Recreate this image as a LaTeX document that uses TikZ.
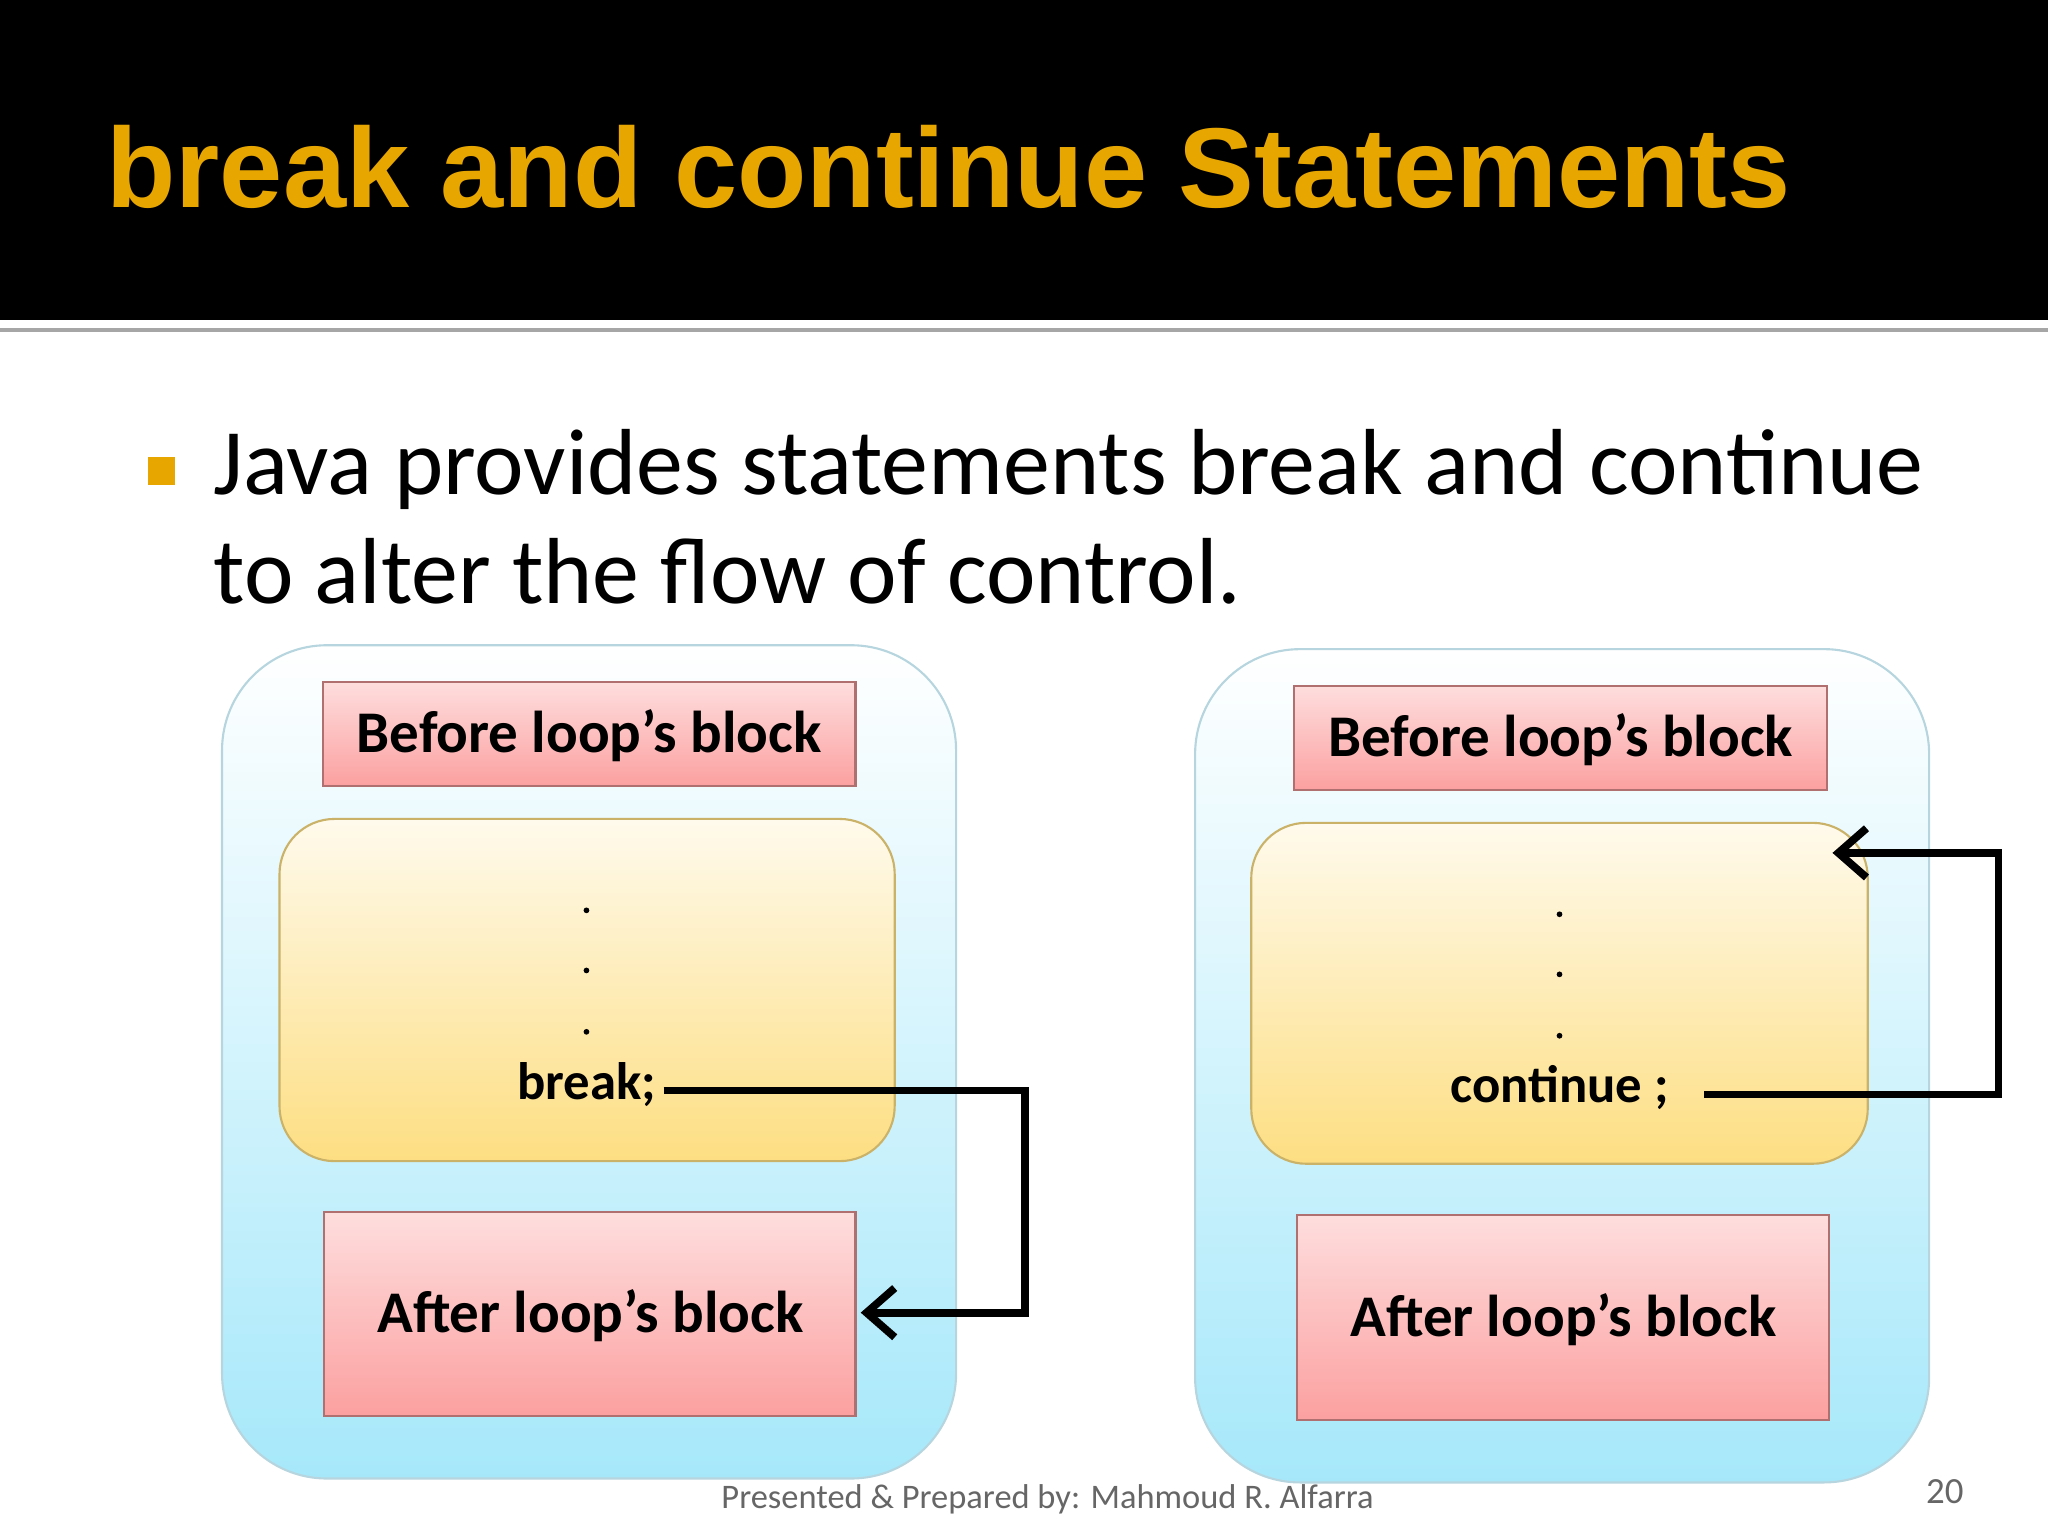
\documentclass[tikz,border=0pt]{standalone}
\usepackage{fontspec}
\setmainfont{Carlito}
\newfontfamily\titlefont{Liberation Sans}
\usetikzlibrary{positioning, arrows.meta, calc}
\definecolor{titleorange}{RGB}{232,166,0}
\definecolor{outerblue}{RGB}{166,232,250}
\definecolor{bodyyellow}{RGB}{253,222,130}
\definecolor{boxpink}{RGB}{252,160,160}
\tikzset{
    outer/.style={draw=outerblue!80!black!60, rounded corners=1.05cm, top color=white, bottom color=outerblue, line width=0.6pt},
    body/.style={draw=bodyyellow!80!black, rounded corners=0.55cm, top color=white!85!bodyyellow, bottom color=bodyyellow, line width=0.6pt},
    blockbox/.style={draw=boxpink!70!black, top color=boxpink!35, bottom color=boxpink, line width=0.6pt},
    blocktext/.style={font=\fontsize{16.8}{19}\selectfont\bfseries, inner sep=0pt},
    flow/.style={line width=2.2pt, -{Straight Barb[length=8pt, width=14pt, line width=2.2pt]}},
    code/.style={font=\fontsize{15}{17}\selectfont\bfseries, inner sep=0pt}
}
\begin{document}
\begin{tikzpicture}[x=0.013061cm, y=-0.013061cm]
    \useasboundingbox (0,0) rectangle (1568,1176);
    % title bar
    \fill[black] (0,0) rectangle (1568,245);
    \fill[gray!70] (0,251) rectangle (1568,254);
    \node[anchor=west, text=titleorange, font=\titlefont\bfseries\fontsize{32.3}{38}\selectfont] (title) at (72,128) {break and continue Statements};
    % bullet
    \fill[titleorange] (113,350) rectangle (134,371);
    \node[anchor=north west, align=left, inner sep=0pt, font=\fontsize{26.7}{31}\selectfont] (intro) at (163,328)
        {Java provides statements break and continue\\to alter the flow of control.};
    % left: break
    \draw[outer] (170,494) rectangle (732,1132);
    \draw[blockbox] (247,522) rectangle (655,602);
    \node[blocktext] (lbefore) at (451,563) {Before loop’s block};
    \draw[body] (214,627) rectangle (685,889);
    \draw[blockbox] (248,928) rectangle (655,1084);
    \node[blocktext] (lafter) at (452,1007) {After loop’s block};
    \coordinate (lafterE) at (659,1005);
    \foreach \y in {697,743,790} \fill (449,\y) circle (2.2);
    \node[code, anchor=east] (brk) at (503,830) {break;};
    \coordinate (brkE) at (508,835);
    \draw[flow] (brkE) -- (785,835) -- (785,1005) -- (lafterE);
    % right: continue
    \draw[outer] (915,497) rectangle (1477,1135);
    \draw[blockbox] (991,525) rectangle (1399,605);
    \node[blocktext] (rbefore) at (1195,566) {Before loop’s block};
    \draw[body] (958,630) rectangle (1430,891);
    \draw[blockbox] (993,930) rectangle (1400,1087);
    \node[blocktext] (rafter) at (1197,1010) {After loop’s block};
    \coordinate (rtop) at (1403,653);
    \foreach \y in {700,746,793} \fill (1194,\y) circle (2.2);
    \node[code] (cont) at (1194,833) {continue ;};
    \coordinate (contE) at (1305,838);
    \draw[flow] (contE) -- (1530,838) -- (1530,653) -- (rtop);
    % footer
    \node[font=\fontsize{9.8}{12}\selectfont, text=gray!80!black] (foot) at (802,1148) {Presented \& Prepared by: Mahmoud R. Alfarra};
    \node[font=\fontsize{10.5}{12}\selectfont, text=gray!80!black] (page) at (1489,1142) {20};
\end{tikzpicture}
\end{document}
